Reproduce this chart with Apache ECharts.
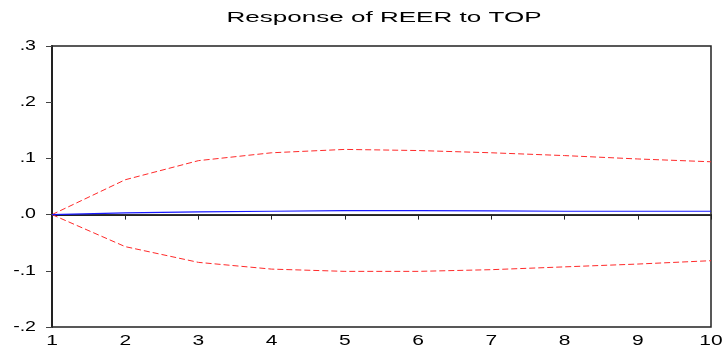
<!DOCTYPE html>
<html><head><meta charset="utf-8">
<script src="https://cdn.jsdelivr.net/npm/echarts@6/dist/echarts.min.js"></script>
<style>html,body{margin:0;padding:0;background:#fff}#c{width:723px;height:349px}</style>
</head><body><div id="c"></div>
<script>
var titleText = 'Response of REER to TOP';
var periods = [1,2,3,4,5,6,7,8,9,10];
var response = [0.000,0.003,0.005,0.006,0.007,0.007,0.0065,0.006,0.006,0.006];
var upperBand = [0.000,0.062,0.096,0.110,0.116,0.114,0.110,0.105,0.099,0.094];
var lowerBand = [0.000,-0.057,-0.085,-0.097,-0.101,-0.101,-0.098,-0.093,-0.088,-0.082];
var zeroLine = [0,0,0,0,0,0,0,0,0,0];
var yTicks = [-0.2,-0.1,0,0.1,0.2,0.3];
var yTickLabels = ['-.2','-.1','.0','.1','.2','.3'];
var xTickLabels = ['1','2','3','4','5','6','7','8','9','10'];

function pairs(v){return periods.map(function(p,i){return [p,v[i]];});}
var chart = echarts.init(document.getElementById('c'));
var font = 'Liberation Sans, Arial, sans-serif';
chart.setOption({
  animation:false,
  grid:{left:52,right:12,top:46,bottom:22,show:true,borderColor:'#222',borderWidth:1.5,backgroundColor:'#fff'},
  xAxis:{type:'value',min:1,max:10,interval:1,
    axisLine:{lineStyle:{color:'#222',width:2}},
    axisTick:{show:true,length:5,lineStyle:{color:'#222'}},
    axisLabel:{show:false},
    splitLine:{show:false}},
  yAxis:{type:'value',min:-0.2,max:0.3,interval:0.1,
    axisLine:{show:true,lineStyle:{color:'#222',width:2}},
    axisTick:{show:true,length:6,lineStyle:{color:'#444'}},
    axisLabel:{show:false},
    splitLine:{show:false}},
  series:[
    {type:'line',data:pairs(zeroLine),symbol:'none',lineStyle:{color:'#333',width:1},silent:true},
    {type:'line',data:pairs(upperBand),symbol:'none',lineStyle:{color:'#ff2a2a',width:1,type:[6,3]}},
    {type:'line',data:pairs(lowerBand),symbol:'none',lineStyle:{color:'#ff2a2a',width:1,type:[6,3]}},
    {type:'line',data:pairs(response),symbol:'none',lineStyle:{color:'#1a1aff',width:1.2}}
  ]
});
var els = [];
function txt(t,x,y,size,sx,align){
  return {type:'text',x:x,y:y,scaleX:sx,silent:true,
    style:{text:t,fill:'#000',font:size+'px '+font,fontSize:size,fontFamily:font,
      align:align,textAlign:align,verticalAlign:'middle',textVerticalAlign:'middle'}};
}
els.push(txt(titleText,384,18,15.5,1.68,'center'));
yTicks.forEach(function(v,i){
  var p = chart.convertToPixel({gridIndex:0},[1,v]);
  els.push(txt(yTickLabels[i],p[0]-16,p[1],14,1.4,'right'));
});
periods.forEach(function(v,i){
  var p = chart.convertToPixel({gridIndex:0},[v,-0.2]);
  els.push(txt(xTickLabels[i],p[0],p[1]+14,14,1.5,'center'));
});
chart.setOption({graphic:{elements:els}});
</script></body></html>
